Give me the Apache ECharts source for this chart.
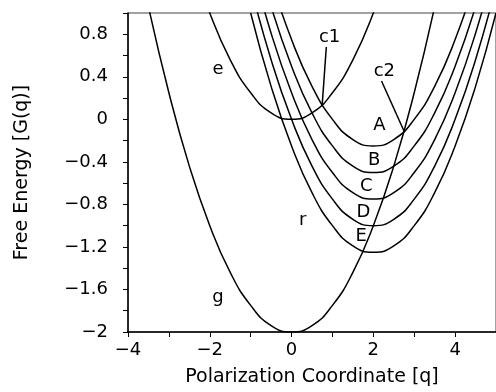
<!DOCTYPE html>
<html>
<head>
<meta charset="utf-8">
<script src="https://cdn.jsdelivr.net/npm/echarts@6/dist/echarts.min.js"></script>
<style>
  html, body { margin: 0; padding: 0; background: #fff; }
  #chart { width: 496px; height: 392px; }
</style>
</head>
<body>
<div id="chart"></div>
<script>
// sample points of the curves
const qG = [-3.5, -3, -2.5, -2, -1.5, -1, -0.5, 0, 0.5, 1, 1.5, 2, 2.5, 3, 3.5]
const curveG = [1.06, 0.25, -0.44, -1, -1.44, -1.75, -1.94, -2, -1.94, -1.75, -1.44, -1, -0.44, 0.25, 1.06]

const qE = [-2.5, -2, -1.5, -1, -0.5, 0, 0.5, 1, 1.5, 2, 2.5]
const curveE = [1.56, 1, 0.56, 0.25, 0.06, 0, 0.06, 0.25, 0.56, 1, 1.56]

const qFamily = [-1, -0.5, 0, 0.5, 1, 1.5, 2, 2.5, 3, 3.5, 4, 4.5, 5]
const curveA = [2.0, 1.31, 0.75, 0.31, 0.0, -0.19, -0.25, -0.19, 0.0, 0.31, 0.75, 1.31, 2.0]
const curveB = [1.75, 1.06, 0.5, 0.06, -0.25, -0.44, -0.5, -0.44, -0.25, 0.06, 0.5, 1.06, 1.75]
const curveC = [1.5, 0.81, 0.25, -0.19, -0.5, -0.69, -0.75, -0.69, -0.5, -0.19, 0.25, 0.81, 1.5]
const curveD = [1.25, 0.56, 0.0, -0.44, -0.75, -0.94, -1.0, -0.94, -0.75, -0.44, 0.0, 0.56, 1.25]
const curveEE = [1.0, 0.31, -0.25, -0.69, -1.0, -1.19, -1.25, -1.19, -1.0, -0.69, -0.25, 0.31, 1.0]

// pointer lines to the crossing points
const lineC1 = [[0.85, 0.68], [0.75, 0.14]]
const lineC2 = [[2.2, 0.36], [2.75, -0.11]]

// curve labels
const labelNames = ['e', 'g', 'r', 'c1', 'c2', 'A', 'B', 'C', 'D', 'E']
const labelQ = [-1.8, -1.8, 0.27, 0.93, 2.27, 2.15, 2.02, 1.83, 1.76, 1.7]
const labelG = [0.47, -1.67, -0.95, 0.77, 0.45, -0.06, -0.39, -0.63, -0.87, -1.1]

const FONT = 'DejaVu Sans'

const zip = (xs, ys) => xs.map((x, i) => [x, ys[i]])

const curve = (data) => ({
  type: 'line',
  data: data,
  smooth: true,
  showSymbol: false,
  symbol: 'none',
  lineStyle: { color: '#000', width: 1.5 },
  silent: true
})

const fmt = (v) => {
  const s = String(Math.round(v * 10) / 10)
  return s.replace('-', '\u2212')
}

const chart = echarts.init(document.getElementById('chart'))

chart.setOption({
  animation: false,
  backgroundColor: '#fff',
  grid: {
    left: 128,
    top: 13,
    right: -1,
    bottom: 57,
    show: true,
    borderColor: '#444',
    borderWidth: 1
  },
  xAxis: {
    type: 'value',
    min: -4,
    max: 5,
    interval: 2,
    name: 'Polarization Coordinate [q]',
    nameLocation: 'middle',
    nameGap: 36,
    nameTextStyle: { fontFamily: FONT, fontSize: 19, color: '#000' },
    axisLine: { show: true, onZero: false, lineStyle: { color: '#000', width: 1.5 } },
    axisTick: { show: true, length: 5, lineStyle: { color: '#000' } },
    minorTick: { show: true, splitNumber: 2, length: 5, lineStyle: { color: '#000' } },
    splitLine: { show: false },
    axisLabel: {
      showMaxLabel: false,
      margin: 9,
      fontFamily: FONT,
      fontSize: 18,
      color: '#000',
      formatter: fmt
    }
  },
  yAxis: {
    type: 'value',
    min: -2,
    max: 1,
    interval: 0.4,
    name: 'Free Energy [G(q)]',
    nameLocation: 'middle',
    nameGap: 96,
    nameTextStyle: { fontFamily: FONT, fontSize: 19, color: '#000' },
    axisLine: { show: true, onZero: false, lineStyle: { color: '#000', width: 1.5 } },
    axisTick: { show: true, length: 5, lineStyle: { color: '#000' } },
    minorTick: { show: true, splitNumber: 2, length: 5, lineStyle: { color: '#000' } },
    splitLine: { show: false },
    axisLabel: {
      showMaxLabel: false,
      margin: 20,
      fontFamily: FONT,
      fontSize: 18,
      color: '#000',
      formatter: fmt
    }
  },
  series: [
    curve(zip(qG, curveG)),
    curve(zip(qE, curveE)),
    curve(zip(qFamily, curveA)),
    curve(zip(qFamily, curveB)),
    curve(zip(qFamily, curveC)),
    curve(zip(qFamily, curveD)),
    curve(zip(qFamily, curveEE)),
    Object.assign(curve(lineC1), { smooth: false }),
    Object.assign(curve(lineC2), { smooth: false }),
    {
      type: 'scatter',
      silent: true,
      symbolSize: 1,
      itemStyle: { color: 'rgba(255,255,255,0)', opacity: 1 },
      data: labelNames.map((n, i) => ({ name: n, value: [labelQ[i], labelG[i]] })),
      label: {
        show: true,
        position: 'inside',
        formatter: (p) => p.name,
        fontFamily: FONT,
        fontSize: 18,
        color: '#000',
        opacity: 1
      }
    }
  ]
})
</script>
</body>
</html>
